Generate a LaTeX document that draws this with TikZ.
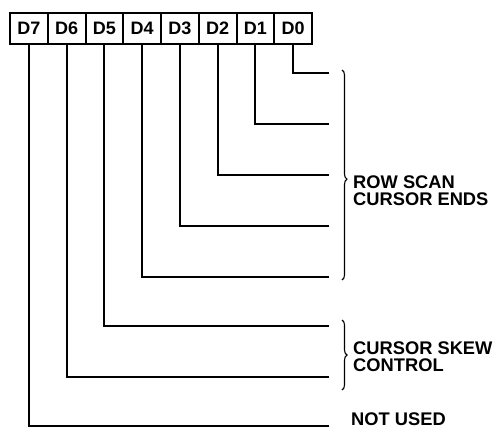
\documentclass[tikz,border=0pt]{standalone}
\usepackage{fontspec}
\setmainfont{Liberation Sans}
\usetikzlibrary{positioning,decorations.pathreplacing}

\begin{document}
\begin{tikzpicture}[x=1pt,y=1pt,node distance=0pt,
  cell/.style={draw,line width=2pt,minimum width=37.75pt,minimum height=31pt,inner sep=0pt,outer sep=0pt,font=\bfseries\fontsize{18}{18}\selectfont},
  wire/.style={line width=2.1pt},
  curly/.style={decorate,decoration={brace,amplitude=5pt,aspect=#1},line width=1.1pt},
  curly/.default=0.5,
  note/.style={anchor=north west,inner sep=0pt,align=left,font=\bfseries\fontsize{18.3}{16.7}\selectfont}]
  \useasboundingbox (0,0) rectangle (494,432);
  % register bits
  \node[cell] (d7) at (28.875,403.5) {D7};
  \node[cell, right=of d7] (d6) {D6};
  \node[cell, right=of d6] (d5) {D5};
  \node[cell, right=of d5] (d4) {D4};
  \node[cell, right=of d4] (d3) {D3};
  \node[cell, right=of d3] (d2) {D2};
  \node[cell, right=of d2] (d1) {D1};
  \node[cell, right=of d1] (d0) {D0};
  % line ends
  \coordinate (e0) at (329,359);
  \coordinate (e1) at (329,308);
  \coordinate (e2) at (329,257);
  \coordinate (e3) at (329,206);
  \coordinate (e4) at (329,155);
  \coordinate (e5) at (329,106);
  \coordinate (e6) at (329,55);
  \coordinate (e7) at (329,6);
  \draw[wire] (d0.south) |- (e0);
  \draw[wire] (d1.south) |- (e1);
  \draw[wire] (d2.south) |- (e2);
  \draw[wire] (d3.south) |- (e3);
  \draw[wire] (d4.south) |- (e4);
  \draw[wire] (d5.south) |- (e5);
  \draw[wire] (d6.south) |- (e6);
  \draw[wire] (d7.south) |- (e7);
  % braces and labels
  \coordinate (rs1) at (342,362);
  \coordinate (rs2) at (342,152);
  \coordinate (cs1) at (342,112);
  \coordinate (cs2) at (342,42);
  \draw[curly=0.52] (rs1) -- (rs2);
  \draw[curly] (cs1) -- (cs2);
  \node[note] (rowscan) at (353,256) {ROW SCAN\\CURSOR ENDS};
  \node[note] (skew) at (353,90) {CURSOR SKEW\\CONTROL};
  \node[note, anchor=base west] (unused) at (351,7) {NOT USED};
\end{tikzpicture}
\end{document}
